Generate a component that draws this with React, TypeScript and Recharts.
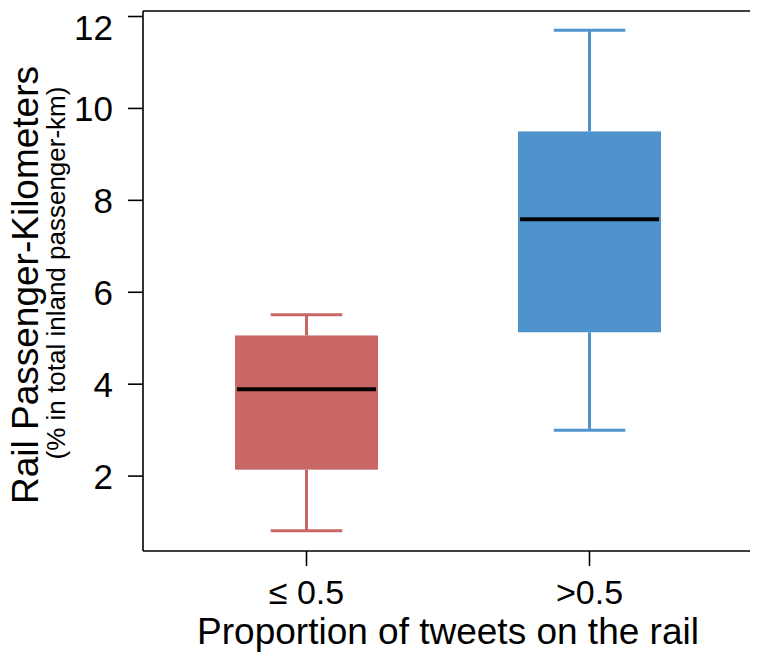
import React from "react";
import { ComposedChart, Bar, XAxis, YAxis, Label } from "recharts";

// box plot stats per group
const CATEGORIES = ["≤ 0.5", ">0.5"];
const WHISKER_LOW = [0.81, 3.0];
const Q1 = [2.14, 5.13];
const MEDIAN = [3.89, 7.59];
const Q3 = [5.06, 9.5];
const WHISKER_HIGH = [5.51, 11.7];
const Y_TICKS = [2, 4, 6, 8, 10, 12];
const Y_DOMAIN = [0.37, 12.12];

const BOX_COLORS = ["#C96666", "#4F93CC"];
const FONT = "'Liberation Sans', Arial, Helvetica, sans-serif";

const data = CATEGORIES.map((name, i) => ({
  name,
  min: WHISKER_LOW[i],
  q1: Q1[i],
  median: MEDIAN[i],
  q3: Q3[i],
  max: WHISKER_HIGH[i],
}));

const BoxShape = (props: any) => {
  const { x, y, width, height, payload, index } = props;
  const d = payload;
  const top = Math.min(y, y + height);
  const k = Math.abs(height) / (d.max - d.min);
  const py = (v: number) => top + (d.max - v) * k;
  const cx = x + width / 2;
  const cap = width / 4;
  const color = BOX_COLORS[index];
  return (
    <g>
      <line x1={cx} x2={cx} y1={py(d.max)} y2={py(d.q3)} stroke={color} strokeWidth={3} />
      <line x1={cx} x2={cx} y1={py(d.q1)} y2={py(d.min)} stroke={color} strokeWidth={3} />
      <line x1={cx - cap} x2={cx + cap} y1={py(d.max)} y2={py(d.max)} stroke={color} strokeWidth={3} />
      <line x1={cx - cap} x2={cx + cap} y1={py(d.min)} y2={py(d.min)} stroke={color} strokeWidth={3} />
      <rect x={x} y={py(d.q3)} width={width} height={py(d.q1) - py(d.q3)} fill={color} />
      <line x1={x + 2} x2={x + width - 2} y1={py(d.median)} y2={py(d.median)} stroke="#000" strokeWidth={4} />
    </g>
  );
};

const YTitle = (props: any) => {
  const { viewBox } = props;
  const cy = viewBox.y + viewBox.height / 2;
  return (
    <g fontFamily={FONT} fill="#000">
      <text x={30} y={cy + 4} textAnchor="middle" fontSize={37} transform={`rotate(-90 30 ${cy + 4})`}>
        Rail Passenger-Kilometers
      </text>
      <text x={57} y={cy - 8} textAnchor="middle" fontSize={26} transform={`rotate(-90 57 ${cy - 8})`}>
        (% in total inland passenger-km)
      </text>
    </g>
  );
};

const XTitle = (props: any) => {
  const { viewBox } = props;
  return (
    <text x={viewBox.x + viewBox.width / 2} y={viewBox.y + 93} textAnchor="middle" fontSize={37} fontFamily={FONT} fill="#000">
      Proportion of tweets on the rail
    </text>
  );
};

const App = () => {
  return (
    <div style={{ fontFamily: FONT }}>
      <ComposedChart width={750} height={654} data={data} margin={{ top: 2, right: 4, bottom: 0, left: 0 }}>
        <XAxis
          dataKey="name"
          height={111}
          padding={{ left: 22, right: 22 }}
          stroke="#000"
          strokeWidth={1.6}
          tickSize={15}
          tickMargin={14}
          tick={{ fontSize: 34, fill: "#000", fontFamily: FONT }}
        >
          <Label content={<XTitle />} />
        </XAxis>
        {/* top and right axes only close the frame */}
        <XAxis xAxisId="t" dataKey="name" orientation="top" height={1} tick={false} tickLine={false} stroke="#000" strokeWidth={1.6} />
        <YAxis
          type="number"
          width={135}
          domain={Y_DOMAIN}
          ticks={Y_TICKS}
          allowDataOverflow
          stroke="#000"
          strokeWidth={1.6}
          tickSize={15}
          tickMargin={15}
          tick={{ fontSize: 35, fill: "#000", fontFamily: FONT }}
        >
          <Label content={<YTitle />} />
        </YAxis>
        <YAxis yAxisId="r" orientation="right" width={1} domain={Y_DOMAIN} allowDataOverflow tick={false} tickLine={false} stroke="#000" strokeWidth={1.6} />
        <Bar
          dataKey={(d: any) => [d.min, d.max]}
          barSize={143}
          shape={<BoxShape />}
          isAnimationActive={false}
        />
      </ComposedChart>
    </div>
  );
};

export default App;
